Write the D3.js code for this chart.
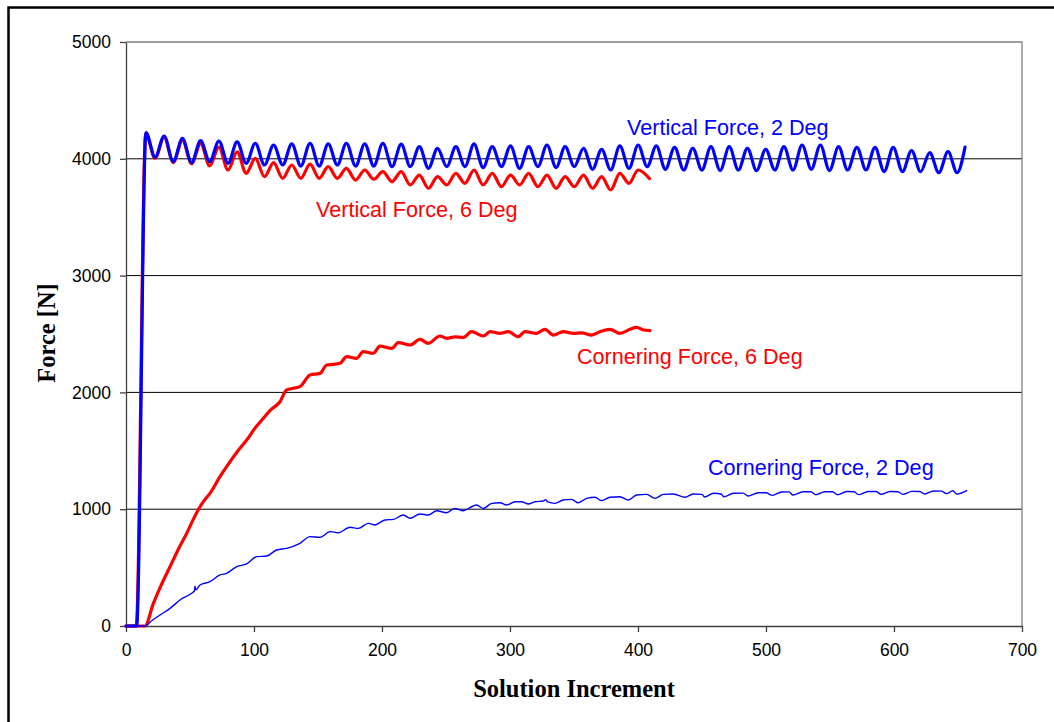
<!DOCTYPE html>
<html>
<head>
<meta charset="utf-8">
<script src="https://cdn.jsdelivr.net/npm/d3@7"></script>
<style>
  html, body { margin: 0; padding: 0; background: #fff; }
  svg { display: block; }
</style>
</head>
<body>
<svg id="chart" width="1054" height="722"></svg>
<script>
// Tyre model run: vertical and cornering force vs. solution increment

const xTicks = [0, 100, 200, 300, 400, 500, 600, 700];
const yTicks = [0, 1000, 2000, 3000, 4000, 5000];

// [solution increment, force N]
const vertical2Deg = [
  [0,0],[8.3,0],
  [15.6,4224],[22.7,4013],[29.8,4195],[36.9,3976],[44.1,4175],[51.2,3967],[58.3,4155],[65.4,3976],
  [72.6,4152],[79.7,3961],[86.8,4145],[93.9,3961],[101.0,4133],[108.2,3947],[115.3,4118],[122.4,3947],
  [129.5,4127],[136.6,3938],[143.8,4133],[150.9,3938],[158.0,4127],[165.1,3947],[172.2,4133],[179.4,3938],
  [186.5,4127],[193.6,3938],[200.7,4133],[207.8,3933],[215.0,4125],[222.1,3933],
  [229.2,4104],[236.3,3918],[243.4,4090],[250.6,3933],[257.7,4104],[264.8,3933],[271.9,4127],[279.0,3925],
  [286.2,4104],[293.3,3933],[300.4,4110],[307.5,3918],[314.6,4104],[321.8,3933],[328.9,4118],[336.0,3925],
  [343.1,4104],[350.2,3933],[357.4,4090],[364.5,3910],[371.6,4081],[378.7,3904],[385.8,4110],[393.0,3918],
  [400.1,4118],[407.2,3933],[414.3,4110],[421.4,3910],[428.6,4098],[435.7,3904],
  [442.8,4090],[449.9,3904],[457.0,4104],[464.2,3899],[471.3,4104],[478.4,3904],[485.5,4090],[492.6,3899],
  [499.8,4081],[506.9,3904],[514.0,4104],[521.1,3904],[528.2,4118],[535.4,3910],[542.5,4118],[549.6,3899],
  [556.7,4104],[563.8,3904],[571.0,4098],[578.1,3904],[585.2,4098],[592.3,3890],[599.4,4098],[606.6,3890],
  [613.7,4070],[620.8,3890],[627.9,4053],[635.0,3881],[642.2,4061],[649.3,3881],[655.5,4100]
];

const vertical6Deg = [
  [0,0],[8.0,0],
  [15.4,4215],[22.7,4005],[29.8,4185],[36.9,3968],[44.1,4160],[51.2,3958],[58.3,4130],[65.4,3940],
  [72.6,4100],[79.7,3904],[86.8,4060],[93.9,3876],[101.0,4004],[108.2,3847],[115.3,3967],[122.4,3833],
  [129.5,3947],[136.6,3833],[143.8,3955],[150.9,3833],[158.0,3933],[165.1,3833],[172.2,3918],[179.4,3818],
  [186.5,3904],[193.6,3825],[200.7,3890],[207.8,3804],[215.0,3890],[222.1,3776],[229.2,3861],[236.3,3747],
  [243.4,3847],[250.6,3776],[257.7,3876],[264.8,3790],[271.9,3904],[279.0,3776],[286.2,3876],[293.3,3761],
  [300.4,3861],[307.5,3776],[314.6,3876],[321.8,3761],[328.9,3861],[336.0,3747],[343.1,3847],[350.2,3761],
  [357.4,3861],[364.5,3747],[371.6,3847],[378.7,3733],[385.8,3876],[393.0,3790],[400.1,3904],[409.0,3830]
];

const cornering6Deg = [
  [0,0],[14.8,0],[21.4,194],[27.5,350],[34.4,508],[41.0,660],[47.4,793],[52.0,900],[57.8,1021],
  [61.5,1080],[65.6,1136],[73.4,1278],[81.3,1407],[87.5,1500],[94.3,1592],[100.5,1690],[107.3,1778],
  [113.0,1850],[120.3,1920],[125.5,2021],[130.5,2035],[135.9,2049],[143.8,2149],[151.6,2163],[156.8,2235],
  [162.0,2240],[167.2,2249],[172.4,2306],[180.2,2292],[185.4,2349],[193.2,2335],[198.4,2397],[207.6,2377],
  [212.8,2426],[221.9,2406],[229.7,2454],[236.2,2420],[245.3,2483],[250.5,2463],[257.0,2475],[263.5,2471],
  [270.0,2520],[279.2,2483],[284.4,2520],[292.2,2506],[298.7,2520],[306.5,2477],[311.7,2520],[320.8,2506],
  [327.3,2540],[333.8,2491],[341.6,2520],[349.5,2506],[356.0,2510],[363.8,2491],[370.3,2520],[378.1,2540],
  [385.9,2506],[393.8,2540],[399.0,2557],[404.2,2534],[409.4,2529]
];

const cornering2Deg = [
  [0,0],[14.8,0],[20.0,45],[26.6,94],[34.4,151],[42.2,223],[51.3,280],[53.4,300],[53.9,340],[54.5,310],
  [57.8,351],[65.6,380],[73.4,437],[78.6,451],[86.5,508],[94.3,531],[102.1,594],[109.9,599],[117.7,651],
  [125.5,665],[135.9,708],[143.8,765],[151.6,759],[159.4,808],[165.9,799],[175.0,845],[181.5,836],
  [189.3,879],[194.5,865],[202.3,908],[208.9,913],[216.7,950],[221.9,922],[229.7,959],[236.2,950],
  [242.7,987],[250.5,970],[257.0,1007],[263.5,987],[270.0,1021],[273.9,1036],[279.2,1007],[285.7,1050],
  [292.2,1055],[297.4,1036],[303.9,1064],[309.1,1064],[314.3,1045],[319.5,1064],[326.0,1070],[328.0,1082],
  [329.5,1062],[335.1,1050],[341.6,1079],[348.1,1084],[353.3,1055],[359.9,1093],[366.4,1102],[371.6,1073],
  [378.1,1102],[385.9,1107],[392.4,1079],[398.9,1121],[406.8,1127],[413.3,1093],[419.8,1127],[427.6,1130],
  [436.7,1102],[443.2,1130],[450.0,1127],[452.0,1104],[459.0,1136],[465.0,1130],[467.0,1107],[474.5,1136],
  [482.0,1138],[486.0,1113],[494.0,1141],[500.0,1141],[505.0,1118],[512.0,1147],[518.0,1148],[521.0,1121],
  [529.0,1150],[535.0,1150],[539.0,1124],[546.0,1150],[552.0,1150],[556.0,1124],[563.0,1152],[569.0,1150],
  [572.0,1125],[580.0,1152],[586.0,1152],[590.0,1127],[597.0,1152],[603.0,1150],[607.0,1127],[614.0,1153],
  [620.0,1152],[624.0,1130],[631.0,1156],[637.0,1155],[641.0,1133],[646.0,1158],[649.0,1130],[656.8,1160]
];

const seriesLabels = [
  { text: "Vertical Force, 2 Deg",   color: "#0000FF", x: 627, y: 135 },
  { text: "Vertical Force, 6 Deg",   color: "#FF0000", x: 316, y: 217 },
  { text: "Cornering Force, 6 Deg",  color: "#FF0000", x: 577, y: 364 },
  { text: "Cornering Force, 2 Deg",  color: "#0000FF", x: 708, y: 475 }
];

const svg = d3.select("#chart");
const plot = { left: 126, right: 1022, top: 42, bottom: 626 };

const x = d3.scaleLinear().domain([0, 700]).range([plot.left, plot.right]);
const y = d3.scaleLinear().domain([0, 5000]).range([plot.bottom, plot.top]);

// outer chart frame
svg.append("rect")
  .attr("x", 8.5).attr("y", 7.5).attr("width", 1100).attr("height", 800)
  .attr("fill", "none").attr("stroke", "#000").attr("stroke-width", 2.5);

// horizontal gridlines
svg.append("g").selectAll("line")
  .data(yTicks.filter(d => d > 0 && d < 5000))
  .join("line")
  .attr("x1", plot.left).attr("x2", plot.right)
  .attr("y1", d => y(d)).attr("y2", d => y(d))
  .attr("stroke", "#000").attr("stroke-width", 1);

// plot-area border (top and right)
svg.append("path")
  .attr("d", `M${plot.left},${y(5000)}H${plot.right}V${plot.bottom}`)
  .attr("fill", "none").attr("stroke", "#808080").attr("stroke-width", 1.3);

// axes
const yAxis = d3.axisLeft(y).tickValues(yTicks).tickFormat(d3.format("d"))
  .tickSize(6).tickSizeOuter(0).tickPadding(9);
const xAxis = d3.axisBottom(x).tickValues(xTicks).tickFormat(d3.format("d"))
  .tickSize(6).tickSizeOuter(0).tickPadding(12);

const gy = svg.append("g").attr("transform", `translate(${plot.left},0)`).call(yAxis);
const gx = svg.append("g").attr("transform", `translate(0,${plot.bottom})`).call(xAxis);
[gx, gy].forEach(g => {
  g.select(".domain").attr("stroke", "#404040").attr("stroke-width", 1.3);
  g.selectAll(".tick line").attr("stroke", "#404040").attr("stroke-width", 1.3);
  g.selectAll(".tick text")
    .attr("fill", "#000")
    .style("font-family", "'Liberation Sans', Arial, sans-serif")
    .style("font-size", "17.5px");
});

// data lines
const wave = d3.line().x(d => x(d[0])).y(d => y(d[1])).curve(d3.curveMonotoneX);

const series = [
  { data: vertical6Deg,  color: "#FF0000", width: 3.2 },
  { data: cornering6Deg, color: "#FF0000", width: 3.2 },
  { data: vertical2Deg,  color: "#0000FF", width: 3.2 },
  { data: cornering2Deg, color: "#0000FF", width: 1.4 }
];

svg.append("g").selectAll("path")
  .data(series)
  .join("path")
  .attr("d", s => wave(s.data))
  .attr("fill", "none")
  .attr("stroke", s => s.color)
  .attr("stroke-width", s => s.width)
  .attr("stroke-linejoin", "round")
  .attr("stroke-linecap", "round");

// series labels
svg.append("g").selectAll("text")
  .data(seriesLabels)
  .join("text")
  .attr("x", d => d.x).attr("y", d => d.y)
  .attr("fill", d => d.color)
  .style("font-family", "'Liberation Sans', Arial, sans-serif")
  .style("font-size", "21.6px")
  .text(d => d.text);

// axis titles
svg.append("text")
  .attr("x", 574).attr("y", 697)
  .attr("text-anchor", "middle")
  .style("font-family", "'Liberation Serif', 'Times New Roman', serif")
  .style("font-weight", "bold")
  .style("font-size", "24.5px")
  .text("Solution Increment");

svg.append("text")
  .attr("transform", "translate(55,333) rotate(-90)")
  .attr("text-anchor", "middle")
  .style("font-family", "'Liberation Serif', 'Times New Roman', serif")
  .style("font-weight", "bold")
  .style("font-size", "24.5px")
  .text("Force [N]");
</script>
</body>
</html>
